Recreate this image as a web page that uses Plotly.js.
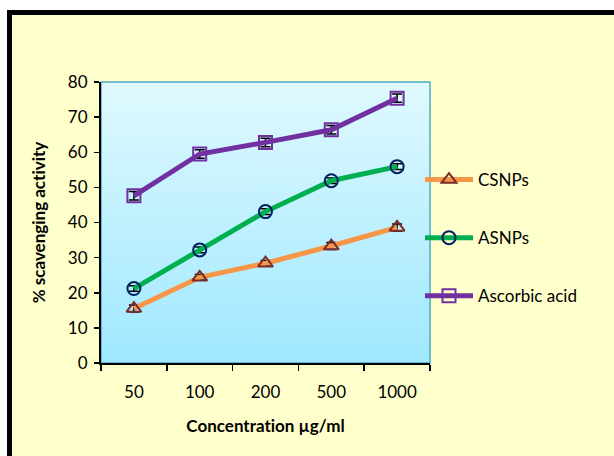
<!DOCTYPE html>
<html>
<head>
<meta charset="utf-8">
<script src="https://cdn.plot.ly/plotly-3.0.1.min.js"></script>
<style>html,body{margin:0;padding:0;background:#fff;}#chart{width:614px;height:456px;}#chart text{font-variant-ligatures:none;font-feature-settings:"liga" 0;}</style>
</head>
<body>
<div id="chart"></div>
<script>
const categories = ["50", "100", "200", "500", "1000"];
const csnps = [15.5, 24.4, 28.4, 33.3, 38.6];
const csnpsErr = [1.0, 0.8, 0.8, 1.0, 1.0];
const asnps = [21.2, 32.2, 43.1, 51.9, 55.9];
const asnpsErr = [0.8, 0.8, 0.8, 0.8, 0.8];
const ascorbic = [47.6, 59.5, 62.8, 66.4, 75.4];
const ascorbicErr = [1.2, 1.2, 1.2, 1.2, 1.2];
const seriesNames = ["CSNPs", "ASNPs", "Ascorbic acid"];

const FONT = "Lato, 'DejaVu Sans', sans-serif";
const errStyle = (arr) => ({type: 'data', array: arr, visible: true, color: '#000', thickness: 1.5, width: 5});

const traces = [
  {x: categories, y: csnps, name: seriesNames[0], type: 'scatter', mode: 'lines+markers',
   line: {color: '#F79646', width: 5},
   marker: {symbol: 'triangle-up-open', size: 13, color: '#7B2C2C', line: {width: 2, color: '#7B2C2C'}},
   error_y: errStyle(csnpsErr), legendgroup: 'a'},
  {x: categories, y: asnps, name: seriesNames[1], type: 'scatter', mode: 'lines+markers',
   line: {color: '#00B050', width: 5},
   marker: {symbol: 'circle-open', size: 13, color: '#002060', line: {width: 2, color: '#002060'}},
   error_y: errStyle(asnpsErr), legendgroup: 'b'},
  {x: categories, y: ascorbic, name: seriesNames[2], type: 'scatter', mode: 'lines+markers',
   line: {color: '#7030A0', width: 5},
   marker: {symbol: 'square-open', size: 13, color: '#7030A0', line: {width: 2, color: '#7030A0'}},
   error_y: errStyle(ascorbicErr), legendgroup: 'c'}
];

const gradSvg = "<svg xmlns='http://www.w3.org/2000/svg' width='100' height='100' preserveAspectRatio='none'><defs><linearGradient id='g' x1='0' y1='0' x2='0' y2='1'><stop offset='0' stop-color='#E0F9FF'/><stop offset='1' stop-color='#9FE8FF'/></linearGradient></defs><rect width='100' height='100' fill='url(#g)'/></svg>";
const gradUri = "data:image/svg+xml;charset=utf-8," + encodeURIComponent(gradSvg);

// pixel -> paper helpers (plot area 101..430 x, 82..363 y)
const L = 101, R = 430, T = 82, B = 363;
const px = (x) => (x - L) / (R - L);
const py = (y) => (B - y) / (B - T);

const layout = {
  width: 614, height: 456,
  margin: {l: L, r: 614 - R, t: T, b: 456 - B, pad: 0},
  paper_bgcolor: '#FFFFCC',
  plot_bgcolor: 'rgba(0,0,0,0)',
  font: {family: FONT, size: 17, color: '#000'},
  showlegend: true,
  legend: {x: px(420), y: py(162), xanchor: 'left', yanchor: 'top',
    bgcolor: 'rgba(0,0,0,0)', traceorder: 'grouped', tracegroupgap: 33,
    font: {family: FONT, size: 17, color: '#000'}, itemwidth: 48},
  xaxis: {type: 'category', range: [-0.5, 4.5], tickson: 'boundaries',
    ticks: 'outside', ticklen: 6, tickwidth: 1.5, tickcolor: '#000',
    showline: true, linecolor: '#000', linewidth: 2, showgrid: false, zeroline: false,
    ticklabelstandoff: 13,
    tickfont: {family: FONT, size: 17},
    title: {text: '<b>Concentration µg/ml</b>', font: {family: FONT, size: 17}, standoff: 19}},
  yaxis: {range: [0, 80], dtick: 10, ticks: 'outside', ticklen: 5, tickwidth: 1.5, tickcolor: '#000',
    showline: true, linecolor: '#000', linewidth: 2, showgrid: false, zeroline: false,
    ticklabelstandoff: 3,
    tickfont: {family: FONT, size: 17},
    title: {text: '<b>% scavenging activity</b>', font: {family: FONT, size: 17}, standoff: 18}},
  images: [{source: gradUri, xref: 'paper', yref: 'paper', x: 0, y: 1, sizex: 1, sizey: 1,
    sizing: 'stretch', xanchor: 'left', yanchor: 'top', layer: 'below'}],
  shapes: [
    {type: 'rect', xref: 'paper', yref: 'paper', x0: 0, x1: 1, y0: 0, y1: 1,
     line: {color: '#4BACC6', width: 1.5}, layer: 'below'},
    {type: 'rect', xref: 'paper', yref: 'paper', x0: px(-20), x1: px(7), y0: py(-20), y1: py(480),
     fillcolor: '#FFFFFF', line: {width: 0}, layer: 'below'},
    {type: 'rect', xref: 'paper', yref: 'paper', x0: px(-20), x1: px(640), y0: py(-20), y1: py(10),
     fillcolor: '#FFFFFF', line: {width: 0}, layer: 'below'},
    {type: 'rect', xref: 'paper', yref: 'paper', x0: px(9.5), x1: px(700), y0: py(12.5), y1: py(520),
     line: {color: '#000', width: 5}, fillcolor: 'rgba(0,0,0,0)', layer: 'below'}
  ]
};

Plotly.newPlot('chart', traces, layout, {staticPlot: true, displayModeBar: false});
</script>
</body>
</html>
